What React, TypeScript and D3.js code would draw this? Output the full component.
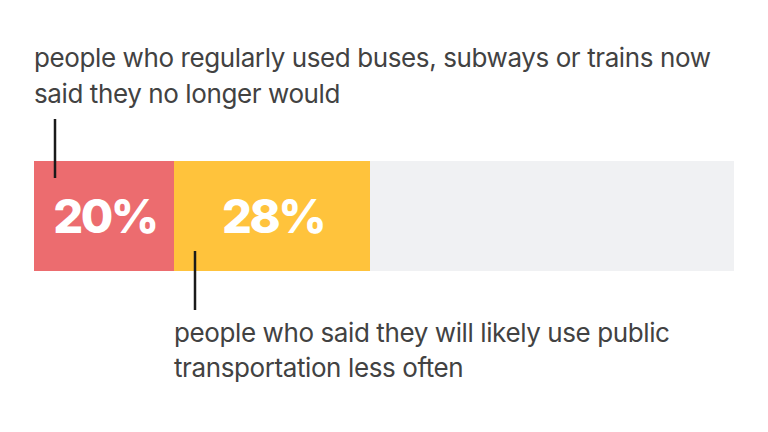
import React from "react";
import * as d3 from "d3";

const segments = ["no longer", "less often", "rest"];
const values = [20, 28, 52];
const colors = ["#ec6c6f", "#ffc33c", "#f0f1f3"];
const showLabel = [true, true, false];
const topNote = ["people who regularly used buses, subways or trains now", "said they no longer would"];
const bottomNote = ["people who said they will likely use public", "transportation less often"];

export default function App() {
  const width = 768;
  const height = 432;
  const margin = { left: 34, right: 34 };
  const barTop = 161;
  const barH = 110;

  const x = d3.scaleLinear().domain([0, 100]).range([margin.left, width - margin.right]);
  const starts = d3.cumsum([0, ...values]);

  const font = "Inter, 'Noto Sans', sans-serif";
  const textColor = "#424242";

  const s0 = x(starts[0]);
  const s1 = x(starts[1]);

  return (
    <svg width={width} height={height} style={{ position: "absolute", left: 0, top: 0, background: "#fff" }}>
      {segments.map((s, i) => (
        <rect key={s} x={x(starts[i])} y={barTop} width={x(starts[i] + values[i]) - x(starts[i])} height={barH} fill={colors[i]} />
      ))}
      {segments.map((s, i) =>
        showLabel[i] ? (
          <text
            key={s + "-l"}
            x={(x(starts[i]) + x(starts[i] + values[i])) / 2 + 1}
            y={233}
            textAnchor="middle"
            fill="#fff"
            fontFamily={font}
            fontWeight={800}
            fontSize={47}
            letterSpacing={-2.5}
          >
            {values[i]}%
          </text>
        ) : null
      )}
      <line x1={s0 + 21} x2={s0 + 21} y1={119} y2={178} stroke="#1a1a1a" strokeWidth={2.5} />
      <line x1={s1 + 21} x2={s1 + 21} y1={251} y2={310} stroke="#1a1a1a" strokeWidth={2.5} />
      {topNote.map((t, i) => (
        <text key={t} x={s0} y={67 + i * 36} fill={textColor} fontFamily={font} fontSize={26} letterSpacing={-0.4}>
          {t}
        </text>
      ))}
      {bottomNote.map((t, i) => (
        <text key={t} x={s1} y={342 + i * 35} fill={textColor} fontFamily={font} fontSize={26} letterSpacing={-0.4}>
          {t}
        </text>
      ))}
    </svg>
  );
}
